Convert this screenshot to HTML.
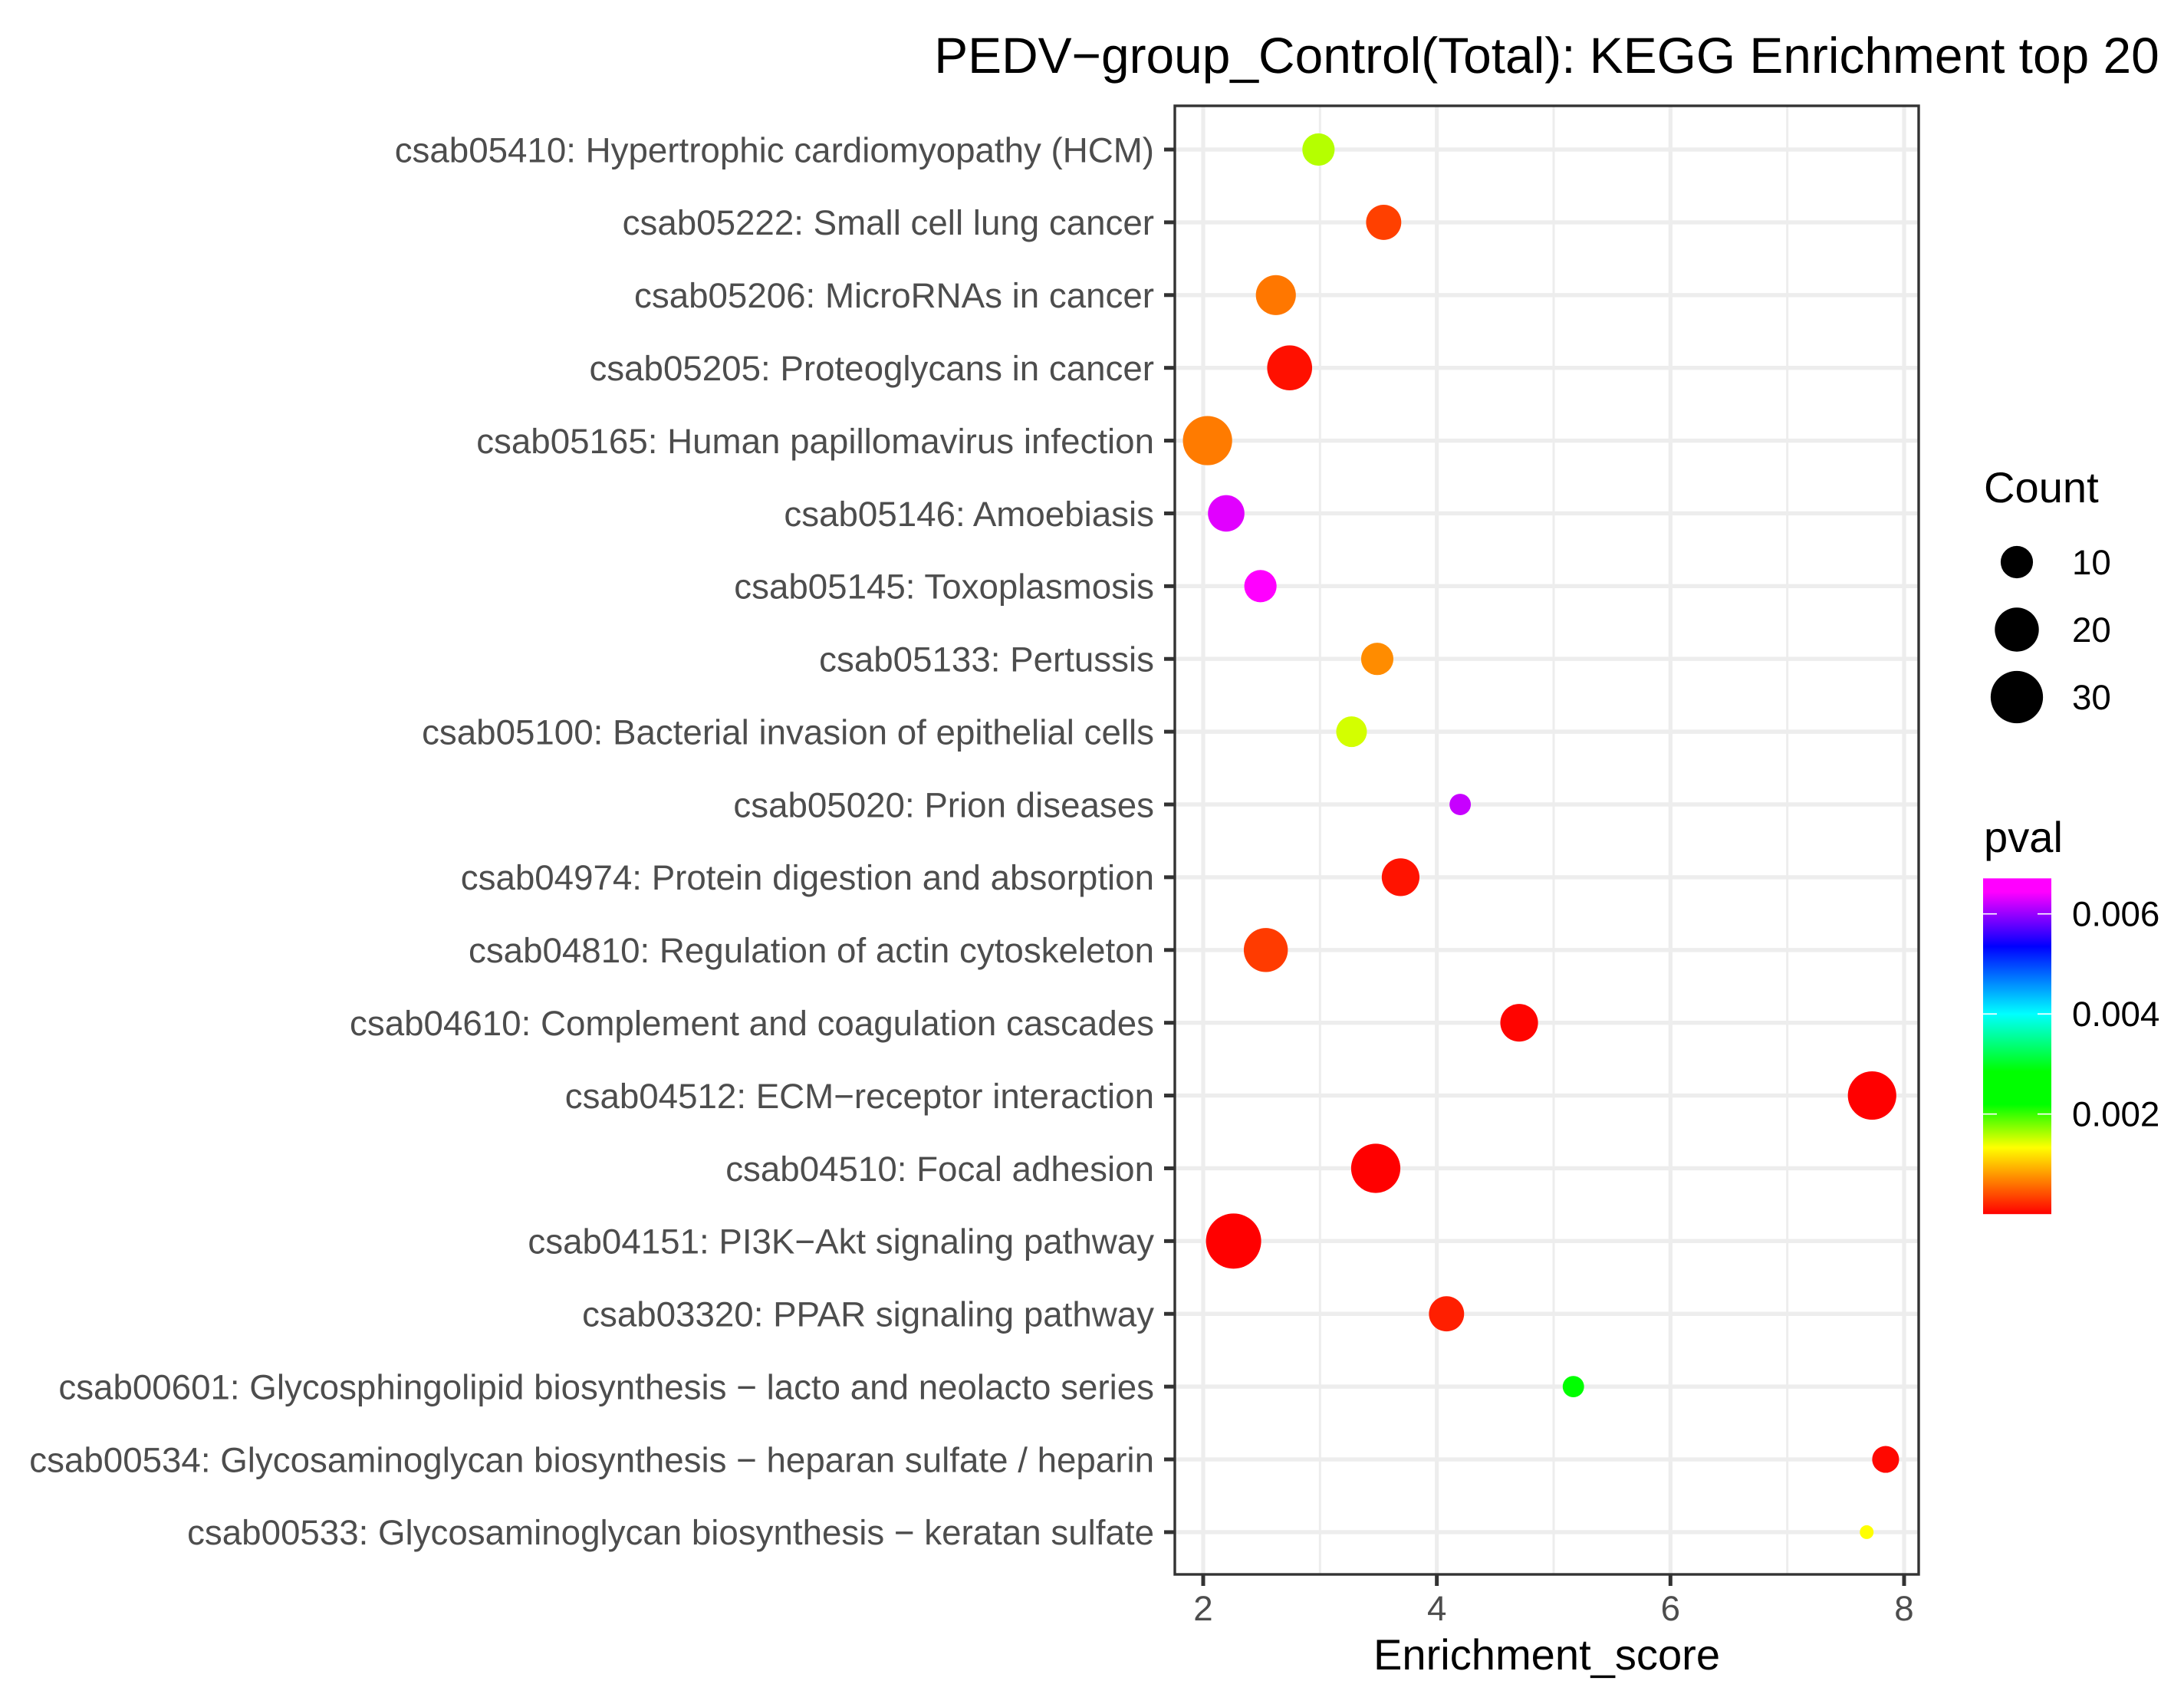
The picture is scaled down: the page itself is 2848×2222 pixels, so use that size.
<!DOCTYPE html>
<html lang="en">
<head>
<meta charset="utf-8">
<title>PEDV−group_Control(Total): KEGG Enrichment top 20</title>
<style>
  html, body { margin: 0; padding: 0; background: #fff; }
  body { width: 2848px; height: 2222px; overflow: hidden; }
  svg { display: block; }
  text { font-family: "Liberation Sans", Arial, sans-serif; text-rendering: geometricPrecision; }
</style>
</head>
<body>
<svg id="chart" xmlns="http://www.w3.org/2000/svg" width="2848" height="2222" viewBox="0 0 2848 2222">
  <defs>
    <linearGradient id="pval-gradient" x1="0" y1="1" x2="0" y2="0"></linearGradient>
  </defs>
  <rect x="0" y="0" width="2848" height="2222" fill="#ffffff"></rect>
  <text x="2017" y="95" font-size="65.85" text-anchor="middle" fill="#000000">PEDV−group_Control(Total): KEGG Enrichment top 20</text>
  <text x="2017" y="2177" font-size="56.1" text-anchor="middle" fill="#000000">Enrichment_score</text>
  <text x="2587" y="655" font-size="56.1" fill="#000000">Count</text>
  <text x="2587" y="1111" font-size="56.1" fill="#000000">pval</text>
  <g id="grid"></g>
  <g id="points"></g>
  <g id="axes"></g>
  <g id="legend-size"></g>
  <g id="legend-colour"></g>
</svg>
<script>
// ---- chart data (top row first) ----
const categories = [
  "csab05410: Hypertrophic cardiomyopathy (HCM)",
  "csab05222: Small cell lung cancer",
  "csab05206: MicroRNAs in cancer",
  "csab05205: Proteoglycans in cancer",
  "csab05165: Human papillomavirus infection",
  "csab05146: Amoebiasis",
  "csab05145: Toxoplasmosis",
  "csab05133: Pertussis",
  "csab05100: Bacterial invasion of epithelial cells",
  "csab05020: Prion diseases",
  "csab04974: Protein digestion and absorption",
  "csab04810: Regulation of actin cytoskeleton",
  "csab04610: Complement and coagulation cascades",
  "csab04512: ECM−receptor interaction",
  "csab04510: Focal adhesion",
  "csab04151: PI3K−Akt signaling pathway",
  "csab03320: PPAR signaling pathway",
  "csab00601: Glycosphingolipid biosynthesis − lacto and neolacto series",
  "csab00534: Glycosaminoglycan biosynthesis − heparan sulfate / heparin",
  "csab00533: Glycosaminoglycan biosynthesis − keratan sulfate"
];
const enrichmentScores = [2.987, 3.545, 2.622, 2.74, 2.037, 2.197, 2.49, 3.49, 3.27, 4.2, 3.69, 2.536, 4.705, 7.726, 3.477, 2.26, 4.083, 5.169, 7.842, 7.68];
const counts = [10, 12, 16, 21, 26, 13, 10, 10, 9, 5, 14, 20, 14, 25, 26, 34, 12, 5, 7, 4];
const pvals = [0.00158, 0.000334, 0.00062, 0.000083, 0.00064, 0.00631, 0.0067, 0.00073, 0.00148, 0.0062, 0.0001, 0.00031, 0.00002, 0, 0, 0, 0.00016, 0.0025, 0.00004, 0.00133];
const xMajorTicks = [2, 4, 6, 8];
const xMinorTicks = [3, 5, 7];
const sizeLegendValues = [10, 20, 30];
const colourTicks = [0.002, 0.004, 0.006];
const colourTickLabels = ["0.002", "0.004", "0.006"];
const colourStopValues = [0, 0.00133, 0.00219, 0.00285, 0.004, 0.00535, 0.00644, 0.00671];
const colourStopRgb = [[255,0,0],[255,255,0],[0,255,0],[0,255,0],[0,255,255],[0,0,255],[255,0,255],[255,0,255]];

// ---- scales ----
const NS = "http://www.w3.org/2000/svg";
const panel = { left: 1532, right: 2502, top: 138, bottom: 2053 };
function xScale(v) { return 1569 + (v - 2) * 152.33; }
function yScale(i) { return 195 + i * 94.89; }
function sizeScale(c) { return 18 + 54 * Math.sqrt(Math.max(0, c - 4) / 30); }
function colourBarY(p) { return 1452.7 - (p - 0.002) * 65250; }
function colourScale(p) {
  const vs = colourStopValues, cs = colourStopRgb;
  if (p <= vs[0]) return "rgb(" + cs[0].join(",") + ")";
  for (let i = 1; i < vs.length; i++) {
    if (p <= vs[i]) {
      const t = (p - vs[i - 1]) / (vs[i] - vs[i - 1]);
      const rgb = cs[i].map(function (c, k) { return Math.round(cs[i - 1][k] + (c - cs[i - 1][k]) * t); });
      return "rgb(" + rgb.join(",") + ")";
    }
  }
  return "rgb(" + cs[cs.length - 1].join(",") + ")";
}
function make(tag, parent, attrs, txt) {
  const el = document.createElementNS(NS, tag);
  for (const k in attrs) el.setAttribute(k, attrs[k]);
  if (txt !== undefined) el.textContent = txt;
  parent.appendChild(el);
  return el;
}

const gridG = document.getElementById("grid");
const pointsG = document.getElementById("points");
const axesG = document.getElementById("axes");
const sizeG = document.getElementById("legend-size");
const colourG = document.getElementById("legend-colour");
const GRID = "#ededed", TICK = "#333333", AXIS_TEXT = "#4d4d4d";
const TEXT_SIZE = 45.7;

// ---- gridlines ----
xMinorTicks.forEach(function (v) {
  const el = make("line", gridG, { x1: xScale(v), x2: xScale(v), y1: panel.top, y2: panel.bottom, stroke: GRID, "stroke-width": 3 });
  
  
});
xMajorTicks.forEach(function (v) {
  const el = make("line", gridG, { x1: xScale(v), x2: xScale(v), y1: panel.top, y2: panel.bottom, stroke: GRID, "stroke-width": 5.2 });
  
  
});
categories.forEach(function (c, i) {
  const el = make("line", gridG, { x1: panel.left, x2: panel.right, y1: yScale(i), y2: yScale(i), stroke: GRID, "stroke-width": 5.4 });
  
  
});

// ---- points ----
categories.forEach(function (c, i) {
  const el = make("circle", pointsG, {
    cx: xScale(enrichmentScores[i]),
    cy: yScale(i),
    r: sizeScale(counts[i]) / 2,
    fill: colourScale(pvals[i])
  });
  
  
});

// ---- panel border, ticks, tick labels ----
const border = make("rect", axesG, {
  x: panel.left, y: panel.top, width: panel.right - panel.left, height: panel.bottom - panel.top,
  fill: "none", stroke: TICK, "stroke-width": 3.4
});



categories.forEach(function (c, i) {
  const t = make("line", axesG, { x1: 1518, x2: panel.left, y1: yScale(i), y2: yScale(i), stroke: TICK, "stroke-width": 5 });
  
  
  const l = make("text", axesG, { x: 1505, y: yScale(i) + 16.3, "font-size": TEXT_SIZE, "text-anchor": "end", fill: AXIS_TEXT }, c);
  
  
});
xMajorTicks.forEach(function (v) {
  const t = make("line", axesG, { x1: xScale(v), x2: xScale(v), y1: panel.bottom, y2: 2068, stroke: TICK, "stroke-width": 5 });
  
  
  const l = make("text", axesG, { x: xScale(v), y: 2113, "font-size": TEXT_SIZE, "text-anchor": "middle", fill: AXIS_TEXT }, String(v));
  
  
});

// ---- size legend ----
sizeLegendValues.forEach(function (v, i) {
  const y = 733 + i * 88;
  const k = make("circle", sizeG, { cx: 2630, cy: y, r: sizeScale(v) / 2, fill: "#000000" });
  
  
  const l = make("text", sizeG, { x: 2702, y: y + 16, "font-size": TEXT_SIZE, fill: "#000000" }, String(v));
  
  
});

// ---- colour bar ----
const barTop = colourBarY(colourStopValues[colourStopValues.length - 1]);
const barBottom = colourBarY(colourStopValues[0]);
const grad = document.getElementById("pval-gradient");
colourStopValues.forEach(function (p) {
  make("stop", grad, {
    offset: (barBottom - colourBarY(p)) / (barBottom - barTop),
    "stop-color": colourScale(p)
  });
});
const bar = make("rect", colourG, { x: 2586, y: barTop, width: 89, height: barBottom - barTop, fill: "url(#pval-gradient)" });


colourTicks.forEach(function (p, i) {
  const y = colourBarY(p);
  const a = make("line", colourG, { x1: 2586, x2: 2604, y1: y, y2: y, stroke: "#ffffff", "stroke-width": 1.6 });
  
  
  const b = make("line", colourG, { x1: 2657, x2: 2675, y1: y, y2: y, stroke: "#ffffff", "stroke-width": 1.6 });
  
  
  const l = make("text", colourG, { x: 2702, y: y + 16, "font-size": TEXT_SIZE, fill: "#000000" }, colourTickLabels[i]);
  
  
});
</script>
</body>
</html>
